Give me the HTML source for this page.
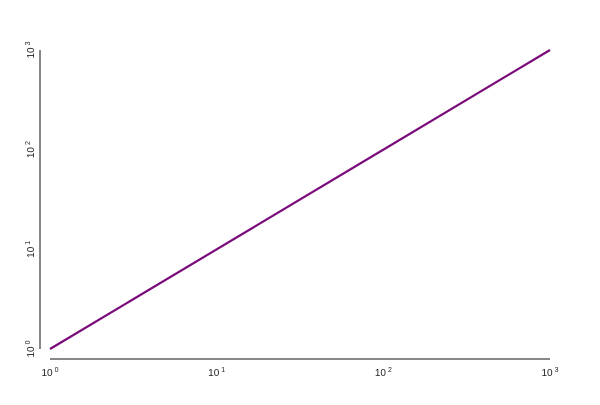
<!DOCTYPE html>
<html><head><meta charset="utf-8"><style>
body{margin:0;background:#fff}
svg text{font-family:"Liberation Sans",sans-serif;font-size:10px;fill:#222}
</style></head><body>
<svg width="600" height="400">
<g id="axes"></g><g id="plot"></g>
</svg>
<script>
const xTicks=[1,10,100,1000];
const yTicks=[1,10,100,1000];
const xs=[1,1000];
const ys=[1,1000];
const X=v=>50+(Math.log10(v)-0)/3*500;
const Y=v=>349-(Math.log10(v)-0)/3*299;
const NS='http://www.w3.org/2000/svg';
function mk(tag,attrs,parent){const e=document.createElementNS(NS,tag);for(const k in attrs)e.setAttribute(k,attrs[k]);parent.appendChild(e);return e;}
const axes=document.getElementById('axes'),plot=document.getElementById('plot');
let xa=mk('line',{x1:50,x2:550,y1:359,y2:359,stroke:'#888','stroke-width':2},axes);


let ya=mk('line',{x1:40,x2:40,y1:50,y2:349,stroke:'#888','stroke-width':2},axes);


xTicks.forEach(v=>{
 const t=mk('text',{x:X(v),y:376,'text-anchor':'middle'},axes);
 
 
 t.innerHTML='10<tspan dx="2" dy="-4" font-size="7">'+Math.log10(v)+'</tspan>';
});
yTicks.forEach(v=>{
 const t=mk('text',{x:0,y:0,'text-anchor':'middle',transform:'translate(34,'+Y(v)+') rotate(-90)'},axes);
 
 
 t.innerHTML='10<tspan dx="2" dy="-4" font-size="7">'+Math.log10(v)+'</tspan>';
});
const pts=xs.map((x,i)=>X(x)+','+Y(ys[i])).join(' ');
const pl=mk('polyline',{points:pts,fill:'none',stroke:'#7a0a7a','stroke-width':2.2},plot);


</script>
</body></html>
